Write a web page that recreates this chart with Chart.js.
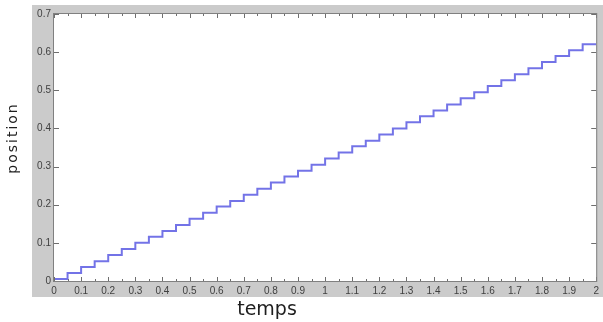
<!DOCTYPE html>
<html>
<head>
<meta charset="utf-8">
<script src="https://cdn.jsdelivr.net/npm/chart.js@4/dist/chart.umd.min.js"></script>
<style>
  html, body { margin: 0; padding: 0; background: #ffffff; }
  #wrap { width: 603px; height: 322px; position: relative; }
</style>
</head>
<body>
<div id="wrap"><canvas id="c" width="603" height="322"></canvas></div>
<script>
// ---- data ----
const times = [0, 0.05, 0.1, 0.15, 0.2, 0.25, 0.3, 0.35, 0.4, 0.45,
               0.5, 0.55, 0.6, 0.65, 0.7, 0.75, 0.8, 0.85, 0.9, 0.95,
               1.0, 1.05, 1.1, 1.15, 1.2, 1.25, 1.3, 1.35, 1.4, 1.45,
               1.5, 1.55, 1.6, 1.65, 1.7, 1.75, 1.8, 1.85, 1.9, 1.95, 2.0];
const positions = [0.005, 0.021, 0.037, 0.052, 0.068, 0.084, 0.100, 0.116, 0.131, 0.147,
                   0.163, 0.179, 0.195, 0.210, 0.226, 0.242, 0.258, 0.274, 0.289, 0.305,
                   0.321, 0.337, 0.353, 0.368, 0.384, 0.400, 0.416, 0.432, 0.447, 0.463,
                   0.479, 0.495, 0.511, 0.526, 0.542, 0.558, 0.574, 0.590, 0.605, 0.621, 0.621];
const xTickLabels = ['0','0.1','0.2','0.3','0.4','0.5','0.6','0.7','0.8','0.9','1',
                     '1.1','1.2','1.3','1.4','1.5','1.6','1.7','1.8','1.9','2'];
const yTickLabels = ['0','0.1','0.2','0.3','0.4','0.5','0.6','0.7'];
const xTitle = 'temps';
const yTitle = 'position';

const points = times.map((t, i) => ({ x: t, y: positions[i] }));

const framePlugin = {
  id: 'frame',
  beforeDraw(chart) {
    const { ctx, chartArea: a } = chart;
    ctx.save();
    ctx.fillStyle = '#ffffff';
    ctx.fillRect(0, 0, chart.width, chart.height);
    ctx.fillStyle = '#cbcbcb';
    ctx.fillRect(32, 5, chart.width - 32, 292);
    ctx.fillStyle = '#ffffff';
    ctx.fillRect(a.left, a.top, a.right - a.left, a.bottom - a.top);
    ctx.restore();
  },
  afterDraw(chart) {
    const { ctx, chartArea: a } = chart;
    const xs = chart.scales.x, ys = chart.scales.y;
    ctx.save();
    ctx.strokeStyle = '#6e6e6e';
    ctx.lineWidth = 1;
    xs.ticks.forEach((tk, i) => {
      const px = Math.round(xs.getPixelForValue(tk.value)) + 0.5;
      ctx.beginPath();
      ctx.moveTo(px, a.bottom); ctx.lineTo(px, a.bottom - 4);
      ctx.moveTo(px, a.top); ctx.lineTo(px, a.top + 4);
      ctx.stroke();
      if (i < xs.ticks.length - 1) {
        const mx = Math.round((xs.getPixelForValue(tk.value) + xs.getPixelForValue(xs.ticks[i + 1].value)) / 2) + 0.5;
        ctx.beginPath();
        ctx.moveTo(mx, a.bottom); ctx.lineTo(mx, a.bottom - 2);
        ctx.moveTo(mx, a.top); ctx.lineTo(mx, a.top + 2);
        ctx.stroke();
      }
    });
    ys.ticks.forEach(tk => {
      const py = Math.round(ys.getPixelForValue(tk.value)) + 0.5;
      ctx.beginPath();
      ctx.moveTo(a.left, py); ctx.lineTo(a.left + 5, py);
      ctx.moveTo(a.right, py); ctx.lineTo(a.right - 5, py);
      ctx.stroke();
    });
    ctx.strokeStyle = '#808080';
    ctx.strokeRect(a.left - 0.5, a.top - 0.5, a.right - a.left + 1, a.bottom - a.top + 1);
    ctx.fillStyle = '#1e1e1e';
    ctx.font = '19px "DejaVu Sans"';
    ctx.textAlign = 'center';
    ctx.textBaseline = 'middle';
    ctx.fillText(xTitle, 267, 310);
    ctx.save();
    ctx.translate(13, 138);
    ctx.rotate(-Math.PI / 2);
    ctx.font = '14px "DejaVu Sans"';
    try { ctx.letterSpacing = '2px'; } catch (e) {}
    ctx.fillText(yTitle, 0, 0);
    ctx.restore();
    ctx.restore();
  }
};

new Chart(document.getElementById('c'), {
  type: 'line',
  data: {
    datasets: [{
      data: points,
      stepped: true,
      borderColor: 'rgba(80,80,225,0.8)',
      borderWidth: 2,
      pointRadius: 0,
      fill: false
    }]
  },
  options: {
    responsive: false,
    animation: false,
    devicePixelRatio: 1,
    layout: { padding: { left: 0, top: 14, right: 5, bottom: 0 } },
    plugins: { legend: { display: false }, tooltip: { enabled: false } },
    scales: {
      x: {
        type: 'linear',
        min: 0, max: 2,
        afterFit(s) { s.height = 41; },
        grid: { display: false, drawTicks: false },
        border: { display: false },
        ticks: {
          stepSize: 0.1,
          padding: 4,
          autoSkip: false,
          maxRotation: 0,
          color: '#404040',
          font: { family: 'Liberation Sans', size: 10 },
          callback: (v, i) => xTickLabels[i]
        }
      },
      y: {
        type: 'linear',
        min: 0, max: 0.7,
        afterFit(s) { s.width = 54; },
        grid: { display: false, drawTicks: false },
        border: { display: false },
        ticks: {
          stepSize: 0.1,
          padding: 3,
          color: '#404040',
          font: { family: 'Liberation Sans', size: 10 },
          callback: (v, i) => yTickLabels[i]
        }
      }
    }
  },
  plugins: [framePlugin]
});
</script>
</body>
</html>
